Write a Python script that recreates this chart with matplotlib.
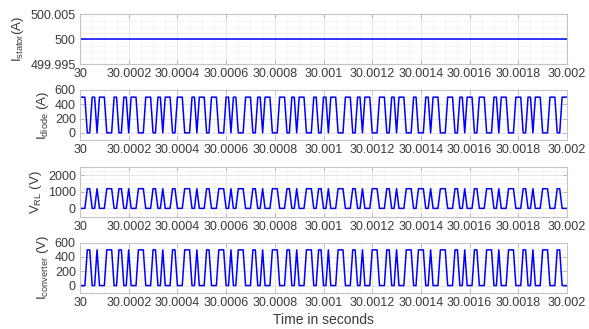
import matplotlib
matplotlib.use("Agg")
import matplotlib.pyplot as plt
import numpy as np
from matplotlib.ticker import FuncFormatter, AutoMinorLocator, FixedLocator

plt.rcParams['font.family'] = ['Liberation Sans', 'DejaVu Sans']
plt.rcParams['mathtext.fontset'] = 'custom'
plt.rcParams['mathtext.rm'] = 'Liberation Sans'
plt.rcParams['mathtext.it'] = 'Liberation Sans'

# sampled switching pattern of the converter (run lengths in samples, low/high alternating)
t0 = 30.0
dt = 1e-5
runs = [3, 2, 2, 1, 3, 3, 2, 2, 2, 1, 3, 3, 3, 2, 2, 1, 3, 2, 3, 3, 2, 1, 3, 2,
        3, 3, 2, 1, 2, 3, 3, 2, 2, 1, 3, 3, 3, 2, 2, 1, 3, 3, 2, 2, 2, 1, 3, 3,
        3, 2, 2, 1, 3, 3, 3, 2, 2, 1, 3, 3, 2, 3, 2, 1, 3, 3, 3, 2, 2, 1, 3, 2,
        3, 3, 2, 1, 3, 3, 3, 2, 2, 1, 3, 3, 3, 2, 3]
i_stator = 500.0
i_peak = 500.0
v_peak = 1180.0

state = np.repeat(np.arange(len(runs)) % 2, runs).astype(float)
t = t0 + np.arange(len(state)) * dt
i_conv = i_peak * state
i_diode = i_peak - i_conv
v_rl = v_peak * state
i_stat = np.full_like(t, i_stator)

xticks = t0 + np.arange(0, 11) * 0.0002

panels = [
    (i_stat, r'I$_{\rm stator}$(A)', (499.995, 500.005), [499.995, 500, 500.005]),
    (i_diode, r'I$_{\rm diode}$ (A)', (-100, 600), [0, 200, 400, 600]),
    (v_rl, r'V$_{\rm RL}$ (V)', (-500, 2500), [0, 1000, 2000]),
    (i_conv, r'I$_{\rm converter}$ (V)', (-100, 600), [0, 200, 400, 600]),
]

fig = plt.figure(figsize=(5.89, 3.29), dpi=100)
tops = [14.3, 90, 166.7, 242.7]
h = 50
for (y, lab, ylim, yt), top in zip(panels, tops):
    ax = fig.add_axes([80 / 589, 1 - (top + h) / 329, 487 / 589, h / 329])
    ax.plot(t, y, color=(0, 0, 1), lw=1.1, solid_joinstyle='round')
    ax.set_xlim(30, 30.002)
    ax.set_ylim(*ylim)
    ax.xaxis.set_major_locator(FixedLocator(xticks))
    ax.xaxis.set_major_formatter(FuncFormatter(lambda v, p: ('%.4f' % v).rstrip('0').rstrip('.')))
    ax.yaxis.set_major_locator(FixedLocator(yt))
    if ylim[0] > 400:
        ax.yaxis.set_major_formatter(FuncFormatter(lambda v, p: ('%.3f' % v).rstrip('0').rstrip('.')))
    else:
        ax.yaxis.set_major_formatter(FuncFormatter(lambda v, p: '%g' % v))
    ax.xaxis.set_minor_locator(AutoMinorLocator(4))
    ax.yaxis.set_minor_locator(AutoMinorLocator(4 if len(yt) < 4 else 2))
    ax.grid(True, which='major', color='#e0e0e0', lw=0.6)
    ax.grid(True, which='minor', color='#f2f2f2', lw=0.5)
    ax.set_axisbelow(True)
    ax.tick_params(which='major', direction='in', length=3, width=0.6, color='#b0b0b0',
                   top=True, right=True, labelsize=9, labelcolor='#3a3a3a', pad=3)
    ax.tick_params(which='minor', length=0)
    for s in ax.spines.values():
        s.set_color('#c4c4c4')
        s.set_linewidth(0.8)
    ax.set_ylabel(lab, fontsize=9.5, color='#3a3a3a', labelpad=3)
    last = ax

last.set_xlabel('Time in seconds', fontsize=10, color='#3a3a3a', labelpad=3)

fig.savefig('out.png', dpi=100)
